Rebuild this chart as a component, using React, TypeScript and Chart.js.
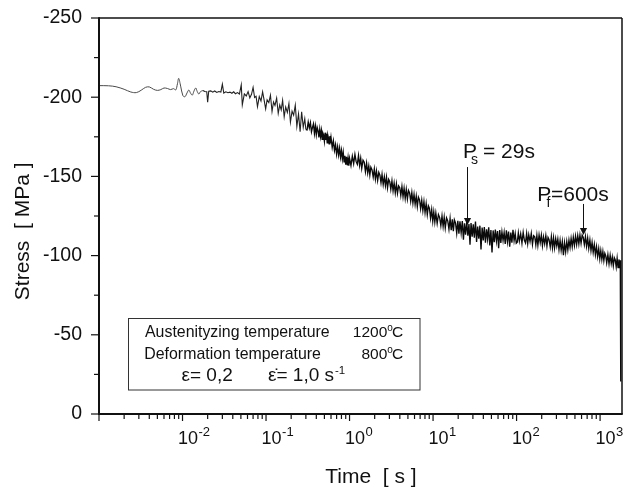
import React, { useEffect, useRef } from 'react';
import { Chart, registerables } from 'chart.js';

Chart.register(...registerables);

const FONT = '"Liberation Sans", Arial, Helvetica, sans-serif';
const INK = '#111111';

// ---- axis ranges / ticks ----
const timeMin = 0.001;
const timeMax = 1830;
const stressTicks = [-250, -225, -200, -175, -150, -125, -100, -75, -50, -25, 0];
const stressLabelTicks = [-250, -200, -150, -100, -50, 0];
const timeDecades = [-2, -1, 0, 1, 2, 3];

// ---- early, smooth part of the record (s, MPa) ----
const earlyTime = [
  0.001, 0.0013, 0.0016, 0.002, 0.0024, 0.0028, 0.0032, 0.0036, 0.004, 0.0045,
  0.005, 0.0055, 0.006, 0.0066, 0.0072, 0.0078, 0.0083, 0.0087, 0.009, 0.0095,
  0.0101, 0.0107, 0.0113, 0.0119, 0.0125, 0.0131, 0.0137, 0.0144, 0.015, 0.0157,
  0.0164, 0.0175,
];
const earlyStress = [
  -207.3, -207.2, -206.6, -205.0, -203.3, -202.9, -204.4, -206.2, -206.5, -205.0,
  -204.3, -204.8, -205.8, -205.5, -204.8, -205.4, -204.6, -208.5, -211.9, -207.0,
  -201.0, -200.3, -202.6, -204.5, -202.5, -201.3, -203.8, -205.8, -203.6, -202.0,
  -203.5, -204.2,
];

// ---- spiky part (s, MPa) ----
const spikyTime = [
  0.0175, 0.0185, 0.0195, 0.0200, 0.0206, 0.0218, 0.023, 0.0243, 0.0257, 0.0272,
  0.0288, 0.030, 0.0312, 0.033, 0.035, 0.037, 0.039, 0.041, 0.043, 0.0455,
  0.048, 0.0505, 0.052, 0.055, 0.058, 0.061, 0.064, 0.067, 0.070, 0.073,
  0.076, 0.079, 0.083, 0.087, 0.091, 0.095, 0.099, 0.103, 0.108, 0.113,
  0.118, 0.123, 0.128, 0.134, 0.140, 0.146, 0.152, 0.158, 0.165, 0.172,
  0.180, 0.188, 0.196, 0.205, 0.214, 0.224, 0.234, 0.245, 0.256, 0.267,
  0.279, 0.291, 0.30,
];
const spikyStress = [
  -204.2, -203.6, -203.4, -196.8, -203.8, -204.0, -203.2, -203.9, -203.0, -203.6,
  -203.3, -208.2, -202.6, -203.4, -202.8, -203.2, -202.5, -203.4, -202.2, -202.9,
  -202.0, -207.8, -195.2, -202.1, -200.8, -203.5, -199.6, -201.8, -206.2, -199.8,
  -200.6, -194.0, -200.4, -197.6, -203.4, -198.0, -192.6, -198.4, -196.6, -201.2,
  -191.0, -197.0, -194.8, -199.4, -189.8, -195.2, -192.0, -198.0, -187.6, -193.8,
  -190.4, -196.0, -184.2, -191.2, -188.6, -195.0, -181.6, -189.4, -178.2, -190.8,
  -181.0, -186.4, -179.6,
];

// ---- dense noisy part (s, MPa) ----
const denseTime = [
  0.31, 0.32, 0.33, 0.34, 0.35, 0.36, 0.37, 0.38, 0.39, 0.40,
  0.41, 0.42, 0.43, 0.44, 0.45, 0.46, 0.47, 0.48, 0.49, 0.50,
  0.51, 0.52, 0.53, 0.54, 0.55, 0.56, 0.57, 0.58, 0.59, 0.60,
  0.62, 0.64, 0.66, 0.68, 0.70, 0.72, 0.74, 0.76, 0.78, 0.80,
  0.82, 0.84, 0.86, 0.88, 0.90, 0.92, 0.94, 0.96, 0.98, 1.00,
  1.04, 1.08, 1.12, 1.16, 1.2, 1.24, 1.28, 1.32, 1.36, 1.4,
  1.45, 1.5, 1.55, 1.6, 1.65, 1.7, 1.75, 1.8, 1.86, 1.92,
  1.98, 2.04, 2.1, 2.17, 2.24, 2.31, 2.38, 2.45, 2.53, 2.61,
  2.69, 2.77, 2.85, 2.94, 3.03, 3.12, 3.22, 3.32, 3.42, 3.53,
  3.64, 3.75, 3.87, 3.99, 4.11, 4.24, 4.37, 4.5, 4.64, 4.78,
  4.93, 5.08, 5.24, 5.4, 5.57, 5.74, 5.92, 6.1, 6.29, 6.48,
  6.68, 6.89, 7.1, 7.32, 7.55, 7.78, 8.02, 8.27, 8.53, 8.79,
  9.06, 9.34, 9.63, 9.92,
  10.2, 10.5, 10.8, 11.2, 11.6, 12.0, 12.4, 12.8, 13.2, 13.6,
  14.0, 14.5, 15.0, 15.5, 16.0, 16.5, 17.0, 17.5, 18.0, 18.6,
  19.2, 19.8, 20.4, 21.0, 21.7, 22.4, 23.1, 23.8, 24.5, 25.3,
  26.1, 26.9, 27.7, 28.5, 29.4, 30.3, 31.2, 32.2, 33.2, 34.2,
  35.3, 36.4, 37.5, 38.7, 39.9, 41.1, 42.4, 43.7, 45.0, 46.4,
  47.8, 49.3, 50.8, 52.4, 54.0, 55.7, 57.4, 59.2, 61.0, 62.9,
  64.8, 66.8, 68.9, 71.0, 73.2, 75.5, 77.8, 80.2, 82.7, 85.3,
  87.9, 90.6, 93.4, 96.3, 99.2,
  102, 105, 108, 112, 116, 120, 124, 128, 132, 136,
  140, 145, 150, 155, 160, 165, 170, 175, 180, 186,
  192, 198, 204, 210, 217, 224, 231, 238, 245, 253,
  261, 269, 277, 285, 294, 303, 312, 322, 332, 342,
  353, 364, 375, 387, 399, 411, 424, 437, 450, 464,
  478, 493, 508, 524, 540, 557, 574, 592, 610, 629,
  648, 668, 689, 710, 732, 755, 778, 802, 827, 853,
  879, 906, 934, 963, 992,
  1020, 1050, 1080, 1110, 1140, 1170, 1200, 1240, 1280, 1320,
  1360, 1400, 1440, 1480, 1520, 1560, 1600, 1640, 1680, 1720,
  1745, 1760, 1768, 1775,
];
const denseStress = [
  -179.4, -184.3, -180.6, -183.9, -178.2, -181.0, -183.2, -177.1, -181.8, -176.4,
  -180.9, -178.8, -174.6, -179.7, -175.2, -178.9, -173.4, -177.3, -176.0, -172.2,
  -177.6, -173.0, -176.8, -171.2, -175.9, -174.1, -170.6, -175.4, -171.0, -174.6,
  -168.3, -172.5, -166.4, -170.1, -164.0, -168.7, -163.5, -167.9, -162.2, -166.4,
  -161.0, -165.3, -159.2, -163.0, -157.4, -162.3, -157.0, -161.6, -156.8, -161.4,
  -156.9, -162.8, -158.1, -163.9, -159.3, -157.6, -163.2, -157.0, -161.4, -155.1,
  -160.2, -158.9, -153.0, -158.3, -152.2, -156.6, -150.9, -155.8, -154.1, -149.6,
  -154.7, -148.3, -153.4, -147.5, -152.6, -150.8, -146.0, -151.3, -144.9, -149.8,
  -144.2, -149.5, -142.9, -148.1, -146.6, -141.8, -147.2, -140.9, -145.8, -139.6,
  -145.3, -139.4, -144.0, -142.9, -137.9, -143.6, -137.2, -142.5, -136.1, -141.7,
  -135.7, -141.1, -139.6, -134.3, -139.8, -133.1, -138.6, -132.4, -137.5, -131.0,
  -136.9, -135.2, -129.6, -135.0, -128.4, -134.1, -127.2, -132.8, -125.9, -131.4,
  -129.8, -123.6, -129.0, -121.8,
  -127.6, -121.2, -126.8, -120.4, -125.9, -124.0, -118.9, -125.0, -118.4, -124.2,
  -117.5, -123.8, -121.9, -116.6, -123.4, -116.0, -122.9, -115.4, -122.6, -120.5,
  -114.2, -122.0, -113.9, -121.6, -114.4, -121.8, -110.0, -120.4, -113.2, -121.1,
  -112.5, -119.9, -106.8, -120.6, -112.0, -119.8, -111.3, -121.5, -108.6, -118.3,
  -110.7, -118.9, -103.8, -117.7, -109.5, -118.0, -108.2, -116.6, -110.4, -117.8,
  -106.4, -116.2, -101.9, -115.9, -108.5, -116.4, -109.2, -115.5, -104.6, -116.1,
  -108.0, -115.0, -109.6, -114.7, -107.3, -116.0, -108.8, -115.2, -105.6, -114.6,
  -108.1, -116.3, -109.4, -113.9, -107.8,
  -108.4, -114.3, -109.2, -113.8, -107.9, -114.6, -109.6, -108.0, -113.9, -107.6,
  -113.2, -108.9, -114.0, -107.1, -112.6, -111.9, -106.8, -112.8, -106.5, -113.1,
  -108.2, -112.9, -106.3, -111.8, -107.4, -112.6, -106.1, -111.5, -110.0, -105.4,
  -111.9, -105.0, -111.2, -104.9, -110.7, -106.1, -110.4, -103.8, -109.6, -103.4,
  -108.8, -100.2, -108.1, -102.3, -108.9, -103.6, -109.8, -105.2, -110.9, -105.6,
  -111.6, -106.4, -112.3, -107.0, -112.7, -107.4, -113.0, -107.8, -112.9, -111.4,
  -107.0, -112.0, -105.9, -111.1, -104.6, -109.9, -103.2, -108.4, -102.0, -107.0,
  -100.6, -105.6, -99.4, -104.4, -98.0,
  -103.2, -97.6, -102.5, -96.9, -101.4, -99.8, -95.4, -100.6, -94.8, -100.2,
  -95.0, -99.1, -93.6, -98.6, -97.2, -92.9, -98.3, -92.4, -97.6, -92.0,
  -97.1, -93.2, -94.6, -20.5,
];

// ---- annotations: arrow positions ----
const arrowTime = [25.5, 625];
const arrowTopStress = [-155.9, -132.6];
const arrowTipStress = [-119.3, -113.0];
const arrowMain = ['P', 'P'];
const arrowSub = ['s', 'f'];
const arrowRest = ['= 29s', '=600s'];

const decorPlugin = {
  id: 'decor',
  afterDraw(chart: any) {
    const ctx: CanvasRenderingContext2D = chart.ctx;
    const a = chart.chartArea;
    const xs = chart.scales.x;
    const ys = chart.scales.y;
    ctx.save();
    ctx.strokeStyle = INK;
    ctx.fillStyle = INK;
    ctx.textBaseline = 'alphabetic';
    const seg = (x1: number, y1: number, x2: number, y2: number, w: number) => {
      ctx.lineWidth = w;
      ctx.beginPath();
      ctx.moveTo(x1, y1);
      ctx.lineTo(x2, y2);
      ctx.stroke();
    };

    // frame
    seg(a.left, a.top, a.right, a.top, 1.5);
    seg(a.right, a.top, a.right, a.bottom, 1.5);
    seg(a.left, a.top - 0.75, a.left, a.bottom + 1, 2);
    seg(a.left - 1, a.bottom, a.right + 0.75, a.bottom, 2);

    // y tick marks
    stressTicks.forEach((v) => {
      const y = ys.getPixelForValue(v);
      const len = stressLabelTicks.includes(v) ? 8 : 5;
      seg(a.left - len, y, a.left, y, 1.2);
    });

    // x tick marks (log decades)
    for (let d = -3; d <= 3; d++) {
      for (let m = 1; m <= 9; m++) {
        const t = m * Math.pow(10, d);
        if (t > timeMax) break;
        const x = xs.getPixelForValue(t);
        seg(x, a.bottom, x, a.bottom + (m === 1 ? 7 : 5), 1.2);
      }
    }

    // x tick labels 10^n
    ctx.textAlign = 'left';
    timeDecades.forEach((d) => {
      const x = xs.getPixelForValue(Math.pow(10, d));
      ctx.font = `18px ${FONT}`;
      ctx.fillText('10', x - 4.5, a.bottom + 30);
      const w = ctx.measureText('10').width;
      ctx.font = `13px ${FONT}`;
      ctx.fillText(String(d), x - 4.5 + w + 0.5, a.bottom + 21.5);
    });

    // axis titles
    ctx.font = `21px ${FONT}`;
    ctx.textAlign = 'center';
    ctx.fillText('Time  [ s ]', (a.left + a.right) / 2 + 10.5, 482.5);
    ctx.save();
    ctx.translate(28.5, (a.top + a.bottom) / 2 + 15.3);
    ctx.rotate(-Math.PI / 2);
    ctx.fillText('Stress  [ MPa ]', 0, 0);
    ctx.restore();

    // arrows with labels
    const labelLayout = [
      { dx: -4.5, dy: -9, subDx: 8, subDy: 5.5, restDx: 20 },
      { dx: -46.3, dy: -3, subDx: 9.3, subDy: 6, restDx: 13.8 },
    ];
    arrowTime.forEach((t, i) => {
      const x = Math.round(xs.getPixelForValue(t)) + 0.5;
      const yTop = ys.getPixelForValue(arrowTopStress[i]);
      const yTip = ys.getPixelForValue(arrowTipStress[i]);
      seg(x, yTop, x, yTip - 6, 1);
      ctx.beginPath();
      ctx.moveTo(x, yTip);
      ctx.lineTo(x - 3.6, yTip - 7);
      ctx.lineTo(x + 3.6, yTip - 7);
      ctx.closePath();
      ctx.fill();
      const L = labelLayout[i];
      const lx = x + L.dx;
      const ly = yTop + L.dy;
      ctx.textAlign = 'left';
      ctx.font = `21px ${FONT}`;
      ctx.fillText(arrowMain[i], lx, ly);
      ctx.fillText(arrowRest[i], lx + L.restDx, ly);
      ctx.font = `14px ${FONT}`;
      ctx.fillText(arrowSub[i], lx + L.subDx, ly + L.subDy);
    });

    // info box
    const bx = a.left + 29.5;
    const by = 318.5;
    const bw = 291.5;
    const bh = 71.5;
    ctx.fillStyle = '#ffffff';
    ctx.fillRect(bx, by, bw, bh);
    ctx.strokeStyle = '#333333';
    ctx.lineWidth = 1;
    ctx.strokeRect(bx, by, bw, bh);
    ctx.fillStyle = INK;
    ctx.textAlign = 'left';
    ctx.font = `15.9px ${FONT}`;
    ctx.fillText('Austenityzing temperature', bx + 16.5, 337.3);
    ctx.fillText('Deformation temperature', bx + 15.8, 358.6);
    const degree = (num: string, right: number, base: number) => {
      ctx.font = `15.5px ${FONT}`;
      const wc = ctx.measureText('C').width;
      const wn = ctx.measureText(num).width;
      ctx.font = `10px ${FONT}`;
      const wo = ctx.measureText('o').width;
      ctx.fillText('o', right - wc - wo + 0.8, base - 6);
      ctx.font = `15.5px ${FONT}`;
      ctx.fillText('C', right - wc, base);
      ctx.fillText(num, right - wc - wo - wn + 0.8, base);
    };
    degree('1200', bx + 274.8, 337.3);
    degree('800', bx + 274.8, 358.6);
    ctx.font = `19px ${FONT}`;
    ctx.fillText('\u03b5= 0,2', bx + 53, 380.5);
    const rateText = '\u03b5\u0307= 1,0 s';
    ctx.fillText(rateText, bx + 139.5, 380.5);
    const wr = ctx.measureText(rateText).width;
    ctx.font = `11.5px ${FONT}`;
    ctx.fillText('-1', bx + 139.5 + wr + 1, 373.5);

    ctx.restore();
  },
};

export default function App() {
  const canvasRef = useRef<HTMLCanvasElement | null>(null);

  useEffect(() => {
    const canvas = canvasRef.current;
    if (!canvas) return;
    const chart = new Chart(canvas, {
      type: 'line',
      data: {
        datasets: [
          {
            data: earlyTime.map((t, i) => ({ x: t, y: earlyStress[i] })),
            borderColor: '#4a4a4a',
            borderWidth: 1,
            pointRadius: 0,
            tension: 0.35,
            fill: false,
          },
          {
            data: spikyTime.map((t, i) => ({ x: t, y: spikyStress[i] })),
            borderColor: '#222222',
            borderWidth: 1.1,
            pointRadius: 0,
            tension: 0,
            fill: false,
          },
          {
            data: [{ x: spikyTime[spikyTime.length - 1], y: spikyStress[spikyStress.length - 1] }].concat(
              denseTime.map((t, i) => ({ x: t, y: denseStress[i] }))
            ),
            borderColor: '#0a0a0a',
            borderWidth: 1.35,
            pointRadius: 0,
            tension: 0,
            fill: false,
          },
        ],
      },
      options: {
        animation: false,
        responsive: false,
        devicePixelRatio: 1,
        events: [],
        layout: { padding: { top: 18, right: 2, bottom: 0, left: 0 } },
        plugins: {
          legend: { display: false },
          tooltip: { enabled: false },
        },
        scales: {
          x: {
            type: 'logarithmic',
            min: timeMin,
            max: timeMax,
            grid: { display: false, drawTicks: false, tickLength: 0 },
            border: { display: false },
            ticks: { display: false },
            afterFit: (s: any) => {
              s.height = 73;
              s.paddingLeft = 0;
              s.paddingRight = 0;
            },
          },
          y: {
            type: 'linear',
            reverse: true,
            min: -250,
            max: 0,
            grid: { display: false, drawTicks: false, tickLength: 0 },
            border: { display: false },
            afterBuildTicks: (s: any) => {
              s.ticks = stressTicks.map((v) => ({ value: v }));
            },
            ticks: {
              autoSkip: false,
              padding: 17,
              color: INK,
              font: { family: FONT, size: 19.5 },
              callback: (v: any) => (stressLabelTicks.includes(Number(v)) ? String(v) : ''),
            },
            afterFit: (s: any) => {
              s.width = 99;
              s.paddingTop = 0;
              s.paddingBottom = 0;
            },
          },
        },
      } as any,
      plugins: [decorPlugin],
    });
    return () => chart.destroy();
  }, []);

  return (
    <div style={{ position: 'fixed', left: 0, top: 0, width: 624, height: 487, background: '#fff' }}>
      <canvas ref={canvasRef} width={624} height={487} style={{ width: 624, height: 487, display: 'block' }} />
    </div>
  );
}
